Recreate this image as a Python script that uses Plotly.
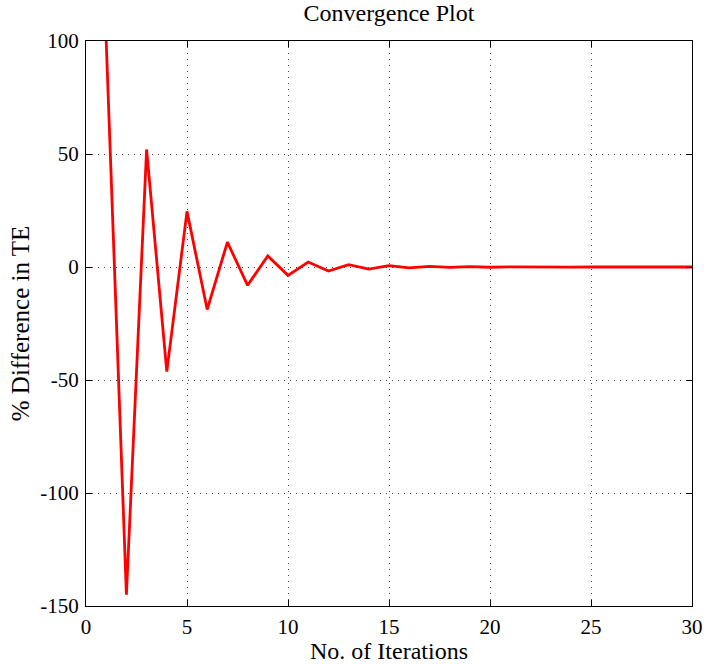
import plotly.graph_objects as go

iterations = list(range(1, 31))
pct_diff = [100, -145, 52, -46.3, 24.6, -18.8, 11.0, -8.1, 4.9, -3.7,
            2.2, -1.8, 1.0, -0.9, 0.6, -0.4, 0.3, -0.2, 0.15, -0.1,
            0.07, -0.05, 0.03, -0.02, 0.01, -0.01, 0.01, 0.0, 0.0, 0.0]

xticks = [0, 5, 10, 15, 20, 25, 30]
yticks = [-150, -100, -50, 0, 50, 100]
ytick_text = ["-150", "-100", "-50", "0", "50", "100"]

font_family = "Liberation Serif"

fig = go.Figure()
fig.add_trace(go.Scatter(x=iterations, y=pct_diff, mode="lines",
                         line=dict(color="#ff0000", width=2.8)))

axis_common = dict(
    showline=True, linecolor="black", linewidth=1, mirror="ticks",
    ticks="inside", ticklen=6, tickcolor="black", tickwidth=1,
    showgrid=True, gridcolor="#444444", griddash="1px,5px", gridwidth=1,
    zeroline=False, automargin=False,
    tickfont=dict(family=font_family, size=21, color="black"),
)

fig.update_layout(
    width=704, height=664,
    margin=dict(l=86, r=12, t=41, b=58),
    plot_bgcolor="white", paper_bgcolor="white",
    showlegend=False,
    title=dict(text="Convergence Plot", x=0.5, xref="paper", xanchor="center",
               y=1 - 13 / 664, yref="container", yanchor="middle",
               font=dict(family=font_family, size=24, color="black")),
    xaxis=dict(range=[0, 30], tickvals=xticks, ticklabelstandoff=2,
               title=dict(text="No. of Iterations", standoff=2,
                          font=dict(family=font_family, size=24, color="black")),
               **axis_common),
    yaxis=dict(range=[-150, 100], tickvals=yticks, ticktext=ytick_text,
               ticklabelstandoff=2,
               title=dict(text="% Difference in TE", standoff=3,
                          font=dict(family=font_family, size=25, color="black")),
               **axis_common),
)

fig.write_html("out.html")
